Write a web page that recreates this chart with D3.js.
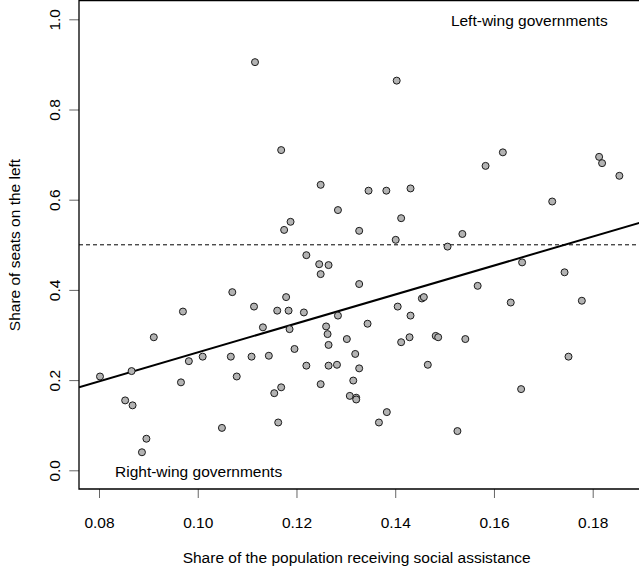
<!DOCTYPE html>
<html>
<head>
<meta charset="utf-8">
<script src="https://d3js.org/d3.v7.min.js"></script>
<style>
  body { margin: 0; background: #fff; }
  text { font-family: "Liberation Sans", Arial, sans-serif; font-size: 15.5px; fill: #000; }
</style>
</head>
<body>
<div id="chart"></div>
<script>
// share of population receiving social assistance
const assistance = [
  0.1116, 0.1403, 0.1169, 0.1249, 0.1346, 0.1382, 0.1431, 0.1618, 0.1583, 0.1813,
  0.1819, 0.1854, 0.1718, 0.1284, 0.1188, 0.1175, 0.1327, 0.1412, 0.1401, 0.1220,
  0.1246, 0.1265, 0.1249, 0.1327, 0.1070, 0.1179, 0.1114, 0.1161, 0.1184, 0.1215,
  0.1284, 0.1405, 0.1431, 0.1454, 0.1458, 0.1132, 0.1186, 0.1260, 0.1263, 0.1344,
  0.1302, 0.1412, 0.1429, 0.1265, 0.1196, 0.1010, 0.1067, 0.1109, 0.1144, 0.1319,
  0.1220, 0.1265, 0.1282, 0.1327, 0.1079, 0.1315, 0.1169, 0.1249, 0.1536, 0.1506,
  0.1657, 0.1743, 0.1567, 0.1634, 0.1778, 0.1482, 0.1487, 0.1542, 0.1466, 0.1751,
  0.1655, 0.0802, 0.0866, 0.0911, 0.0970, 0.0982, 0.0966, 0.0853, 0.0868, 0.0896,
  0.0887, 0.1049, 0.1155, 0.1163, 0.1308, 0.1321, 0.1321, 0.1367, 0.1383, 0.1526
];
// share of seats on the left
const seatsLeft = [
  0.905, 0.864, 0.710, 0.633, 0.620, 0.620, 0.625, 0.705, 0.675, 0.695,
  0.681, 0.653, 0.596, 0.577, 0.551, 0.533, 0.531, 0.559, 0.511, 0.477,
  0.457, 0.455, 0.435, 0.413, 0.395, 0.384, 0.363, 0.354, 0.354, 0.350,
  0.343, 0.363, 0.343, 0.381, 0.384, 0.317, 0.313, 0.319, 0.302, 0.325,
  0.291, 0.284, 0.295, 0.278, 0.269, 0.252, 0.252, 0.252, 0.254, 0.258,
  0.232, 0.232, 0.234, 0.226, 0.208, 0.199, 0.184, 0.191, 0.524, 0.496,
  0.461, 0.439, 0.409, 0.372, 0.376, 0.298, 0.295, 0.291, 0.234, 0.252,
  0.180, 0.208, 0.220, 0.295, 0.352, 0.242, 0.195, 0.155, 0.144, 0.070,
  0.040, 0.094, 0.171, 0.106, 0.165, 0.161, 0.157, 0.106, 0.129, 0.087
];
const fitIntercept = -0.0596
const fitSlope = 3.21
const majority = 0.5
const xTicks = [0.08, 0.10, 0.12, 0.14, 0.16, 0.18]
const yTicks = [0.0, 0.2, 0.4, 0.6, 0.8, 1.0]

const width = 639
const height = 568
const box = { left: 79, top: 0.5, right: 660, bottom: 489 }

const xScale = d3.scaleLinear().domain([0.08, 0.18]).range([99, 592.7])
const yScale = d3.scaleLinear().domain([0, 1]).range([470.3, 19.3])

const svg = d3.select("#chart").append("svg")
  .attr("width", width).attr("height", height)

svg.append("defs").append("clipPath").attr("id", "clip")
  .append("rect")
  .attr("x", box.left).attr("y", box.top)
  .attr("width", box.right - box.left).attr("height", box.bottom - box.top)

const xAxis = d3.axisBottom(xScale).tickValues(xTicks).tickFormat(d3.format(".2f"))
  .tickSize(9).tickPadding(19)
const yAxis = d3.axisLeft(yScale).tickValues(yTicks).tickFormat(d3.format(".1f"))
  .tickSize(9.7)

const gx = svg.append("g")
  .attr("transform", "translate(0," + box.bottom + ")")
  .call(xAxis)
gx.select(".domain").remove()
gx.selectAll(".tick line").attr("stroke", "#666")
gx.selectAll(".tick text").attr("font-size", null).attr("font-family", null)

const gy = svg.append("g")
  .attr("transform", "translate(" + box.left + ",0)")
  .call(yAxis)
gy.select(".domain").remove()
gy.selectAll(".tick line").attr("stroke", "#666")
gy.selectAll(".tick text")
  .attr("font-size", null).attr("font-family", null)
  .attr("x", null).attr("dy", null)
  .attr("text-anchor", "middle")
  .attr("transform", "translate(-19,0) rotate(-90)")

const plot = svg.append("g").attr("clip-path", "url(#clip)")

plot.append("line")
  .attr("x1", box.left).attr("x2", box.right)
  .attr("y1", yScale(majority)).attr("y2", yScale(majority))
  .attr("stroke", "#000").attr("stroke-width", 1)
  .attr("stroke-dasharray", "4,3")

const xDom = [xScale.invert(box.left), xScale.invert(box.right)]
plot.append("line")
  .attr("x1", xScale(xDom[0])).attr("y1", yScale(fitIntercept + fitSlope * xDom[0]))
  .attr("x2", xScale(xDom[1])).attr("y2", yScale(fitIntercept + fitSlope * xDom[1]))
  .attr("stroke", "#000").attr("stroke-width", 2)

plot.selectAll("circle")
  .data(assistance.map((x, i) => [x, seatsLeft[i]]))
  .enter()
  .append("circle")
  .attr("cx", d => xScale(d[0]))
  .attr("cy", d => yScale(d[1]))
  .attr("r", 3.5)
  .attr("fill", "#b3b3b3")
  .attr("stroke", "#1a1a1a")
  .attr("stroke-width", 1)

// plot frame
svg.append("path")
  .attr("d", "M" + box.right + "," + box.top + "H" + box.left + "V" + box.bottom + "H" + box.right)
  .attr("fill", "none").attr("stroke", "#000").attr("stroke-width", 1.3)

svg.append("text")
  .attr("x", 607.7).attr("y", 25.5)
  .attr("text-anchor", "end")
  .text("Left-wing governments")

svg.append("text")
  .attr("x", 115).attr("y", 476.7)
  .text("Right-wing governments")

svg.append("text")
  .attr("x", 356.7).attr("y", 563)
  .attr("text-anchor", "middle")
  .text("Share of the population receiving social assistance")

svg.append("text")
  .attr("transform", "translate(20,245) rotate(-90)")
  .attr("text-anchor", "middle")
  .text("Share of seats on the left")
</script>
</body>
</html>
